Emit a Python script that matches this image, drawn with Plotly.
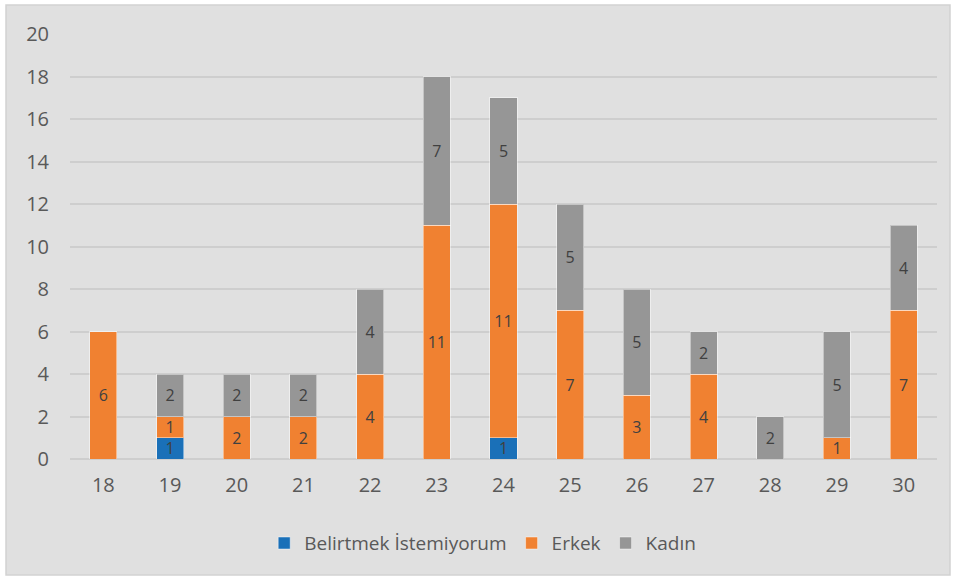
import plotly.graph_objects as go

ages = ["18", "19", "20", "21", "22", "23", "24", "25", "26", "27", "28", "29", "30"]
belirtmek = [0, 1, 0, 0, 0, 0, 1, 0, 0, 0, 0, 0, 0]
erkek = [6, 1, 2, 2, 4, 11, 11, 7, 3, 4, 0, 1, 7]
kadin = [0, 2, 2, 2, 4, 7, 5, 5, 5, 2, 2, 5, 4]

series = [
    ("Belirtmek İstemiyorum", belirtmek, "#1a70b8"),
    ("Erkek", erkek, "#f08131"),
    ("Kadın", kadin, "#969696"),
]

fig = go.Figure()
for name, values, color in series:
    fig.add_bar(
        x=ages,
        y=values,
        name=name,
        marker=dict(color=color, line=dict(color="rgba(255,255,255,0.45)", width=1)),
        text=[str(v) if v else "" for v in values],
        textposition="inside",
        insidetextanchor="middle",
        textangle=0,
        textfont=dict(color="#404040", size=16),
        constraintext="none",
    )

# grey chart frame around the plot area and legend
fig.add_shape(
    type="rect", xref="paper", yref="paper",
    x0=-0.0738, x1=1.015, y0=-0.273, y1=1.068,
    fillcolor="#e0e0e0", line=dict(color="#d2d2d2", width=1.5),
    layer="below",
)

fig.update_layout(
    barmode="stack",
    bargap=0.595,
    width=955,
    height=578,
    margin=dict(l=70, r=18, t=34, b=119),
    paper_bgcolor="white",
    plot_bgcolor="rgba(0,0,0,0)",
    font=dict(family="Open Sans, Lato, sans-serif", color="#595959", size=17),
    showlegend=True,
    legend=dict(
        orientation="h",
        x=0.476,
        xanchor="center",
        y=-0.198,
        yanchor="middle",
        font=dict(size=19, color="#595959"),
        bgcolor="rgba(0,0,0,0)",
        traceorder="normal",
    ),
    xaxis=dict(
        showgrid=False,
        showline=False,
        ticks="",
        tickfont=dict(size=20, color="#595959"),
        ticklabelstandoff=12,
    ),
    yaxis=dict(
        range=[0, 20],
        dtick=2,
        showgrid=True,
        gridcolor="#cecece",
        gridwidth=1.5,
        zeroline=True,
        zerolinecolor="#cecece",
        zerolinewidth=1.5,
        showline=False,
        ticks="",
        tickfont=dict(size=20, color="#595959"),
        ticklabelstandoff=20,
    ),
)

fig.write_html(
    "out.html",
    config={"displayModeBar": False},
    post_script="document.body.style.margin='0px';",
)
